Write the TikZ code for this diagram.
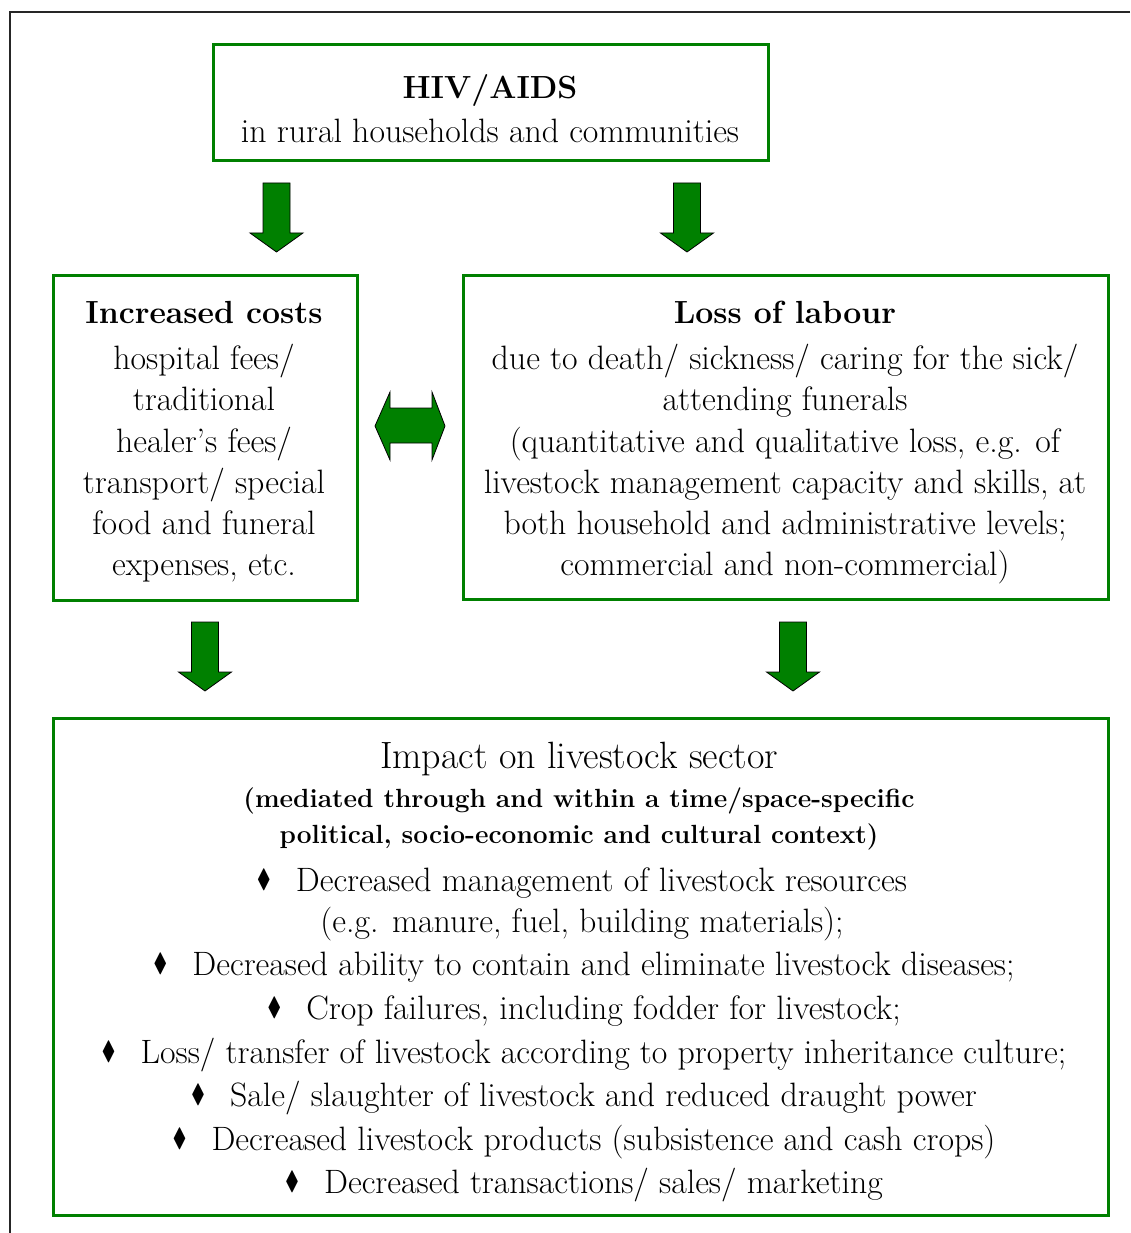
\documentclass[tikz,border=0pt]{standalone}
\usepackage{amssymb}
\usepackage{graphicx}
\definecolor{boxgreen}{RGB}{0,128,0}
\definecolor{arrowgreen}{RGB}{0,128,0}
\newcommand{\bul}{\raisebox{0.25ex}{\scalebox{0.62}[0.78]{$\blacklozenge$}}\hspace{25pt}}
\tikzset{
  panel/.style={draw=boxgreen, line width=3pt, inner sep=0pt, anchor=north west},
  body/.style={anchor=base, inner sep=0pt, font=\fontsize{33.8}{38}\selectfont},
  headb/.style={anchor=base, inner sep=0pt, font=\fontsize{32}{36}\selectfont\bfseries},
  subb/.style={anchor=base, inner sep=0pt, font=\fontsize{26.3}{30}\selectfont\bfseries},
  headr/.style={anchor=base, inner sep=0pt, font=\fontsize{38}{42}\selectfont},
  blockarrow/.style={fill=arrowgreen, draw=black, line width=0.8pt, line join=miter},
  frameline/.style={draw=black!85, line width=1.6pt}
}
\begin{document}
\begin{tikzpicture}[x=1pt,y=-1pt]
\useasboundingbox (0,0) rectangle (1130,1233);
% page frame fragments
\coordinate (fa) at (1130,12);
\coordinate (fb) at (10,12);
\coordinate (fc) at (10,1233);
\draw[frameline] (fa) -- (fb) -- (fc);

% boxes
\node[panel, minimum width=555pt, minimum height=116pt] (hiv) at (212,43) {};
\node[panel, minimum width=304pt, minimum height=325pt] (costs) at (52,274) {};
\node[panel, minimum width=645pt, minimum height=324pt] (labour) at (462,274) {};
\node[panel, minimum width=1055pt, minimum height=497pt] (impact) at (52,717) {};

% HIV texts
\node[headb] (t1) at (490,99) {HIV/AIDS};
\node[body] (t2) at (490,143) {in rural households and communities};

% costs texts
\node[headb] (c0) at (204,323) {Increased costs};
\node[body] (c1) at (204,369) {hospital fees/};
\node[body] (c2) at (204,410) {traditional};
\node[body] (c3) at (204,452) {healer's fees/};
\node[body] (c4) at (204,493) {transport/ special};
\node[body] (c5) at (204,534) {food and funeral};
\node[body] (c6) at (204,575) {expenses, etc.};

% labour texts
\node[headb] (l0) at (785,323) {Loss of labour};
\node[body] (l1) at (785,369) {due to death/ sickness/ caring for the sick/};
\node[body] (l2) at (785,410) {attending funerals};
\node[body] (l3) at (785,452) {(quantitative and qualitative loss, e.g. of};
\node[body] (l4) at (785,493) {livestock management capacity and skills, at};
\node[body] (l5) at (785,534) {both household and administrative levels;};
\node[body] (l6) at (785,575) {commercial and non-commercial)};

% impact texts
\node[headr] (i0) at (579,768) {Impact on livestock sector};
\node[subb] (i1) at (579,807) {(mediated through and within a time/space-specific};
\node[subb] (i2) at (579,843) {political, socio-economic and cultural context)};
\node[body] (i3) at (582,891) {\bul Decreased management of livestock resources};
\node[body] (i4) at (582,932) {(e.g. manure, fuel, building materials);};
\node[body] (i5) at (584,975) {\bul Decreased ability to contain and eliminate livestock diseases;};
\node[body] (i6) at (584,1019) {\bul Crop failures, including fodder for livestock;};
\node[body] (i7) at (584,1063) {\bul Loss/ transfer of livestock according to property inheritance culture;};
\node[body] (i8) at (584,1106) {\bul Sale/ slaughter of livestock and reduced draught power};
\node[body] (i9) at (584,1150) {\bul Decreased livestock products (subsistence and cash crops)};
\node[body] (i10) at (584,1193) {\bul Decreased transactions/ sales/ marketing};

% down block arrows
\foreach \n/\cx/\ty in {a1/276.5/183, a2/687/183, a3/205/622, a4/793/622}{
  \coordinate (\n) at (\cx,\ty);
  \draw[blockarrow] ([xshift=-13.5pt]\n) -- ([xshift=13.5pt]\n) -- ([xshift=13.5pt,yshift=-50pt]\n)
    -- ([xshift=26.5pt,yshift=-50pt]\n) -- ([yshift=-69pt]\n) -- ([xshift=-26.5pt,yshift=-50pt]\n)
    -- ([xshift=-13.5pt,yshift=-50pt]\n) -- cycle;
}

% double block arrow
\coordinate (dl) at (375,426);
\coordinate (dr) at (445,426);
\draw[blockarrow] (dl) -- ([xshift=15pt,yshift=34pt]dl) -- ([xshift=15pt,yshift=18pt]dl)
  -- ([xshift=-13pt,yshift=18pt]dr) -- ([xshift=-13pt,yshift=34pt]dr) -- (dr)
  -- ([xshift=-13pt,yshift=-34pt]dr) -- ([xshift=-13pt,yshift=-17pt]dr)
  -- ([xshift=15pt,yshift=-17pt]dl) -- ([xshift=15pt,yshift=-34pt]dl) -- cycle;
\end{tikzpicture}
\end{document}
